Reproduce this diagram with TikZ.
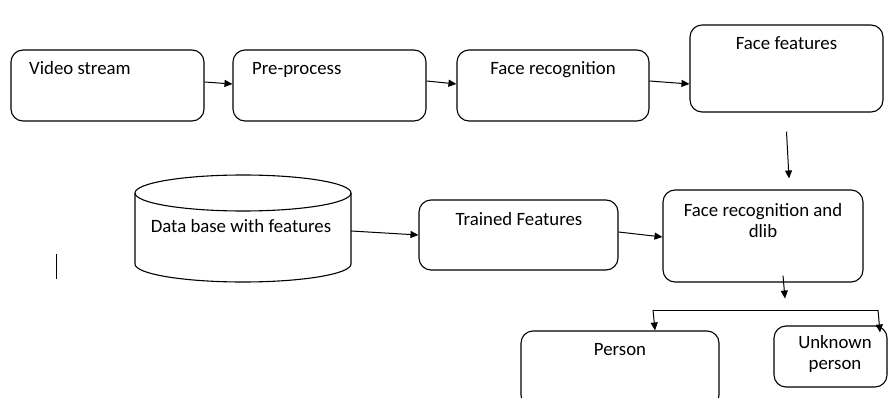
\documentclass[tikz,border=0pt]{standalone}
\usepackage{fontspec}
\setmainfont{Carlito}
\usetikzlibrary{arrows.meta,calc}
\begin{document}
\begin{tikzpicture}[x=1pt,y=-1pt,
  box/.style={draw, rounded corners=12pt, line width=1.1pt, inner sep=0pt},
  lbl/.style={font=\fontsize{18.8}{21}\selectfont, inner sep=0pt, align=center},
  arr/.style={-{Triangle[length=8pt,width=7pt]}, line width=1pt},
  ln/.style={line width=1pt}]
\useasboundingbox (0,0) rectangle (888,398);
% boxes
\node[box, minimum width=193pt, minimum height=71pt] (vs) at (107.5,85.5) {};
\node[box, minimum width=193pt, minimum height=71pt] (pp) at (329.5,85.5) {};
\node[box, minimum width=192pt, minimum height=71pt] (fr) at (553,85.5) {};
\node[box, minimum width=193pt, minimum height=87pt] (ff) at (786.5,68.5) {};
\node[box, minimum width=199pt, minimum height=70pt] (tf) at (518.5,235) {};
\node[box, minimum width=200pt, minimum height=92pt] (dl) at (763,236) {};
\node[box, minimum width=198pt, minimum height=76pt] (pe) at (620,369) {};
\node[box, minimum width=113pt, minimum height=61pt] (un) at (830.5,356.5) {};
% database cylinder
\node[inner sep=0pt, minimum width=216pt, minimum height=107pt] (db) at (243,228.5) {};
\draw[line width=1.1pt] (243,193) ellipse [x radius=108pt, y radius=18pt];
\draw[line width=1.1pt] (135,193) -- (135,264)
  arc[start angle=180, end angle=360, x radius=108pt, y radius=18pt] -- (351,193);
% labels
\node[lbl, anchor=base west] (tvs) at (29,75) {Video stream};
\node[lbl, anchor=base west] (tpp) at (252,75) {Pre-process};
\node[lbl, anchor=base] (tfr) at (553,75) {Face recognition};
\node[lbl, anchor=base] (tff) at (786.5,50) {Face features};
\node[lbl, anchor=base] (ttf) at (519,225) {Trained Features};
\node[lbl, anchor=base] (tdb) at (241,232) {Data base with features};
\node[lbl, anchor=base] (tdl) at (763,237) {Face recognition and\\dlib};
\node[lbl, anchor=base] (tpe) at (620,355) {Person};
\node[lbl, anchor=base] (tun) at (835,369) {Unknown\\person};
% connectors
\draw[arr] ([yshift=3.5pt]vs.east) -- ([yshift=1.5pt]pp.west);
\draw[arr] ([yshift=4.5pt]pp.east) -- ([yshift=1.5pt]fr.west);
\draw[arr] ([yshift=4.5pt]fr.east) -- ([yshift=-15.5pt]ff.west);
\draw[arr] ($(ff.south)+(0,19)$) -- ($(dl.north)+(26,-11)$);
\draw[arr] ([yshift=-2.5pt]db.east) -- (tf.west);
\draw[arr] ([yshift=3pt]tf.east) -- ([yshift=-1pt]dl.west);
\draw[arr] ($(dl.south)+(20,-7)$) -- ($(dl.south)+(22,16)$);
\coordinate (sl) at (653,310);
\coordinate (sr) at (878,310);
\draw[ln] (sl) -- (sr);
\draw[arr] (sl) -- ($(pe.north)+(35,0)$);
\draw[arr] (sr) -- ($(un.north)+(49.5,7)$);
% stray mark
\draw[line width=0.8pt] (56,254) -- (56,279);
\end{tikzpicture}
\end{document}
